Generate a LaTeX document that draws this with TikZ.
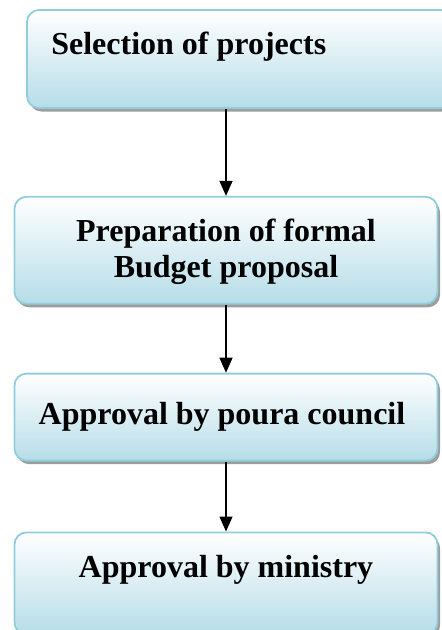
\documentclass[tikz,border=0pt]{standalone}
\usepackage{fontspec}
\setmainfont{Liberation Serif}
\usepackage{xcolor}
\usetikzlibrary{positioning,shadows,arrows.meta}
\definecolor{stageedge}{HTML}{92CDDC}
\definecolor{stagefill}{HTML}{B6DDE8}

\begin{document}
\begin{tikzpicture}[x=1pt,y=1pt,
	stage/.style = {draw=stageedge, line width=1.8pt, rounded corners=12pt,
		top color=white, bottom color=stagefill, minimum width=423pt,
		drop shadow={shadow xshift=2.5pt, shadow yshift=-3.5pt, fill=black!55, opacity=0.7}},
	caption/.style = {inner sep=0pt, align=center, font=\bfseries\fontsize{32}{36}\selectfont},
	flow/.style = {line width=1.4pt, -{Triangle[length=15pt,width=13pt]}}]
		\useasboundingbox (0,0) rectangle (442,-630);
		\node[stage, minimum width=426pt, minimum height=98pt] (b1) at (240,-59) {};
		\node[stage, minimum height=107pt] (b2) [below=87pt of b1, xshift=-14pt] {};
		\node[stage, minimum height=87pt] (b3) [below=68pt of b2] {};
		\node[stage, minimum height=102pt] (b4) [below=70pt of b3] {};
		\node[caption, anchor=base west] (t1) at ([xshift=25pt,yshift=-45pt]b1.north west) {Selection of projects};
		\node[caption, anchor=base] (t2) at ([yshift=-82pt]b2.north) {Preparation of formal\\Budget proposal};
		\node[caption, anchor=base] (t3) at ([xshift=-4pt,yshift=-52pt]b3.north) {Approval by poura council};
		\node[caption, anchor=base] (t4) at ([yshift=-46pt]b4.north) {Approval by ministry};
		\draw[flow] (b1.south -| b2.north) -- (b2.north);
		\draw[flow] (b2) -- (b3);
		\draw[flow] (b3) -- (b4);
	\end{tikzpicture}
\end{document}
